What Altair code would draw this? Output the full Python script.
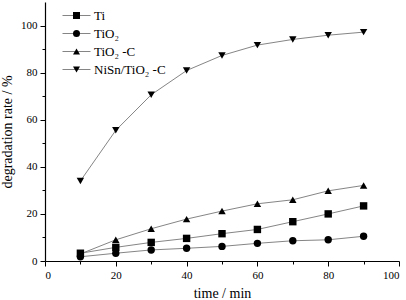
import altair as alt
import pandas as pd

times = [10, 20, 30, 40, 50, 60, 70, 80, 90]
series_names = ["Ti", "TiO₂", "TiO₂ -C", "NiSn/TiO₂ -C"]
ti = [3.3, 5.8, 7.9, 9.6, 11.6, 13.4, 16.7, 20.0, 23.4]
tio2 = [1.8, 3.3, 4.7, 5.4, 6.2, 7.5, 8.6, 9.0, 10.5]
tio2c = [3.0, 9.0, 13.7, 17.8, 21.2, 24.3, 26.0, 29.8, 32.1]
nisn = [34.0, 55.5, 70.6, 80.9, 87.3, 91.7, 94.1, 95.9, 97.2]
shapes = ["square", "circle", "triangle-up", "triangle-down"]

rows = []
for name, vals in zip(series_names, [ti, tio2, tio2c, nisn]):
    for t, v in zip(times, vals):
        rows.append({"t": t, "v": v, "s1": name, "s2": name})
df = pd.DataFrame(rows)

FONT = "Liberation Serif"

def make_axis(title):
    return alt.Axis(
        title=title,
        values=list(range(0, 101, 10)),
        labelExpr="datum.value % 20 == 0 ? datum.label : ''",
        tickSize={"condition": {"test": "datum.value % 20 == 0", "value": 5}, "value": 3},
        grid=False,
        domainColor="black",
        domainWidth=1.2,
        tickColor="black",
        tickWidth=1,
        labelFont=FONT,
        labelFontSize=11,
        labelColor="black",
        labelPadding=3,
        titleFont=FONT,
        titleFontSize=14,
        titleFontWeight="normal",
        titleColor="black",
        titlePadding=6,
    )

xs = alt.Scale(domain=[0, 100], nice=False)
ys = alt.Scale(domain=[0, 110], nice=False)

lines = alt.Chart(df).mark_line(strokeWidth=1).encode(
    x=alt.X("t:Q", scale=xs, axis=make_axis("time / min")),
    y=alt.Y("v:Q", scale=ys, axis=make_axis("degradation rate / %")),
    color=alt.Color(
        "s1:N",
        sort=series_names,
        scale=alt.Scale(range=["#858585"] * 4),
        legend=alt.Legend(
            title=None,
            orient="none",
            legendX=25,
            legendY=7,
            padding=0,
            symbolType="M-4,0H4",
            symbolSize=49,
            symbolStrokeWidth=1,
            labelOffset=11,
            labelOpacity=0,
            labelFont=FONT,
            labelFontSize=13,
            rowPadding=4,
        ),
    ),
)

points = alt.Chart(df).mark_point(filled=True, color="black", size=55, opacity=1).encode(
    x=alt.X("t:Q", scale=xs, axis=make_axis("time / min")),
    y=alt.Y("v:Q", scale=ys, axis=make_axis("degradation rate / %")),
    shape=alt.Shape(
        "s2:N",
        sort=series_names,
        scale=alt.Scale(range=shapes),
        legend=alt.Legend(
            title=None,
            orient="none",
            legendX=25,
            legendY=7,
            padding=0,
            symbolSize=49,
            symbolFillColor="black",
            symbolStrokeColor="black",
            symbolStrokeWidth=1,
            labelOffset=11,
            labelFont=FONT,
            labelFontSize=13,
            labelColor="black",
            rowPadding=4,
        ),
    ),
)

chart = (
    alt.layer(lines, points)
    .properties(
        width=354,
        height=259,
        autosize=alt.AutoSizeParams(type="none"),
        padding={"left": 45, "top": 2, "right": 7, "bottom": 39},
    )
    .configure(font=FONT)
    .configure_axis(labelFont=FONT, titleFont=FONT, titleFontWeight="normal")
    .configure_legend(labelFont=FONT)
    .configure_view(stroke=None)
)

chart.save("out.html", embed_options={"renderer": "svg", "actions": False})
